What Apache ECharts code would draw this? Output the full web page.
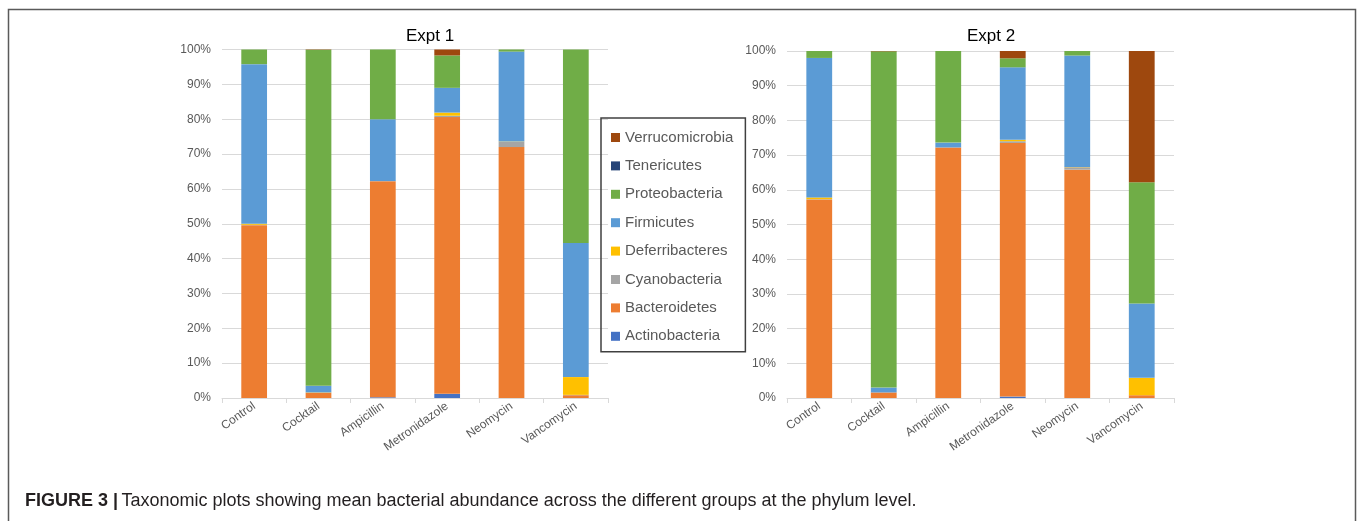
<!DOCTYPE html>
<html>
<head>
<meta charset="utf-8">
<script src="https://cdn.jsdelivr.net/npm/echarts@6/dist/echarts.min.js"></script>
<style>html,body{margin:0;padding:0;background:#fff;}#c{width:1358px;height:521px;}</style>
</head>
<body>
<div id="c"></div>
<script>
// ---- data ----
const categories = ['Control', 'Cocktail', 'Ampicillin', 'Metronidazole', 'Neomycin', 'Vancomycin'];
const phyla = ['Actinobacteria', 'Bacteroidetes', 'Cyanobacteria', 'Deferribacteres', 'Firmicutes', 'Proteobacteria', 'Tenericutes', 'Verrucomicrobia'];
const yTicks = [0, 10, 20, 30, 40, 50, 60, 70, 80, 90, 100];

// Expt 1 (% abundance per group)
const e1Actinobacteria  = [0, 0, 0.2, 1.2, 0, 0];
const e1Bacteroidetes   = [49.6, 1.5, 62.0, 79.4, 72.0, 0.8];
const e1Cyanobacteria   = [0.1, 0, 0.1, 0.4, 1.5, 0.1];
const e1Deferribacteres = [0.3, 0.1, 0, 0.9, 0.1, 5.1];
const e1Firmicutes      = [45.8, 1.9, 17.7, 7.1, 25.8, 38.5];
const e1Proteobacteria  = [4.2, 96.4, 20.0, 9.3, 0.6, 55.5];
const e1Tenericutes     = [0, 0, 0, 0, 0, 0];
const e1Verrucomicrobia = [0, 0.1, 0, 1.7, 0, 0];

// Expt 2
const e2Actinobacteria  = [0, 0, 0, 0.4, 0, 0];
const e2Bacteroidetes   = [57.2, 1.6, 72.2, 73.1, 65.8, 0.8];
const e2Cyanobacteria   = [0.1, 0, 0, 0.5, 0.7, 0];
const e2Deferribacteres = [0.5, 0, 0, 0.4, 0.1, 5.0];
const e2Firmicutes      = [40.2, 1.4, 1.4, 20.9, 32.1, 21.4];
const e2Proteobacteria  = [2.0, 96.9, 26.4, 2.6, 1.3, 35.0];
const e2Tenericutes     = [0, 0, 0, 0, 0, 0];
const e2Verrucomicrobia = [0, 0.1, 0, 2.1, 0, 37.8];

const expt1 = [e1Actinobacteria, e1Bacteroidetes, e1Cyanobacteria, e1Deferribacteres, e1Firmicutes, e1Proteobacteria, e1Tenericutes, e1Verrucomicrobia];
const expt2 = [e2Actinobacteria, e2Bacteroidetes, e2Cyanobacteria, e2Deferribacteres, e2Firmicutes, e2Proteobacteria, e2Tenericutes, e2Verrucomicrobia];

// ---- style ----
const colors = ['#4472C4', '#ED7D31', '#A5A5A5', '#FFC000', '#5B9BD5', '#70AD47', '#264478', '#9E480E'];
const FONT = 'Liberation Sans, Arial, sans-serif';
const gridColor = '#d9d9d9';
const labelColor = '#595959';

function xAxisCfg(gi) {
  return {
    type: 'category', gridIndex: gi, data: categories,
    axisLine: { lineStyle: { color: gridColor, width: 1 } },
    axisTick: { show: true, length: 5, lineStyle: { color: gridColor } },
    axisLabel: { rotate: 35, color: labelColor, fontSize: 12, fontFamily: FONT, margin: 7, interval: 0 }
  };
}
function yAxisCfg(gi) {
  return {
    type: 'value', gridIndex: gi, min: 0, max: 100, interval: 10,
    axisLine: { show: false }, axisTick: { show: false },
    splitLine: { lineStyle: { color: gridColor, width: 1 } },
    axisLabel: { formatter: '{value}%', color: labelColor, fontSize: 12, fontFamily: FONT, margin: 11 }
  };
}

const series = [];
[expt1, expt2].forEach((ex, gi) => {
  phyla.forEach((p, i) => {
    series.push({
      name: p, type: 'bar', stack: 'e' + gi, xAxisIndex: gi, yAxisIndex: gi,
      data: ex[i], barWidth: '40%',
      itemStyle: { color: colors[i] },
      emphasis: { disabled: true }
    });
  });
});

const chart = echarts.init(document.getElementById('c'));
chart.setOption({
  animation: false,
  color: colors,
  title: [
    { text: 'Expt 1', left: 425, top: 23, textAlign: 'center', textStyle: { fontSize: 17, fontWeight: 'normal', color: '#000', fontFamily: FONT } },
    { text: 'Expt 2', left: 986, top: 23, textAlign: 'center', textStyle: { fontSize: 17, fontWeight: 'normal', color: '#000', fontFamily: FONT } }
  ],
  grid: [
    { left: 222, top: 49.5, width: 386, height: 348.5 },
    { left: 787, top: 51, width: 387, height: 347 }
  ],
  xAxis: [xAxisCfg(0), xAxisCfg(1)],
  yAxis: [yAxisCfg(0), yAxisCfg(1)],
  legend: {
    data: phyla.slice().reverse(),
    orient: 'vertical', left: 601, top: 118,
    width: 147,
    padding: [12, 12, 8, 10],
    borderColor: '#404040', borderWidth: 1.5,
    itemWidth: 9, itemHeight: 9, itemGap: 13.4,
    icon: 'rect',
    selectedMode: false,
    textStyle: { fontSize: 15, color: labelColor, fontFamily: FONT, lineHeight: 14, padding: [0, 0, 0, 0] }
  },
  graphic: [
    { type: 'rect', shape: { x: 8.5, y: 9.5, width: 1347, height: 560 }, style: { fill: 'none', stroke: '#5a5a5a', lineWidth: 1.5 }, silent: true },
    {
      type: 'text', left: 25, top: 492,
      style: {
        text: '{b|FIGURE 3 |} {n|Taxonomic plots showing mean bacterial abundance across the different groups at the phylum level.}',
        rich: {
          b: { fontFamily: FONT, fontWeight: 'bold', fontSize: 18, fill: '#231f20' },
          n: { fontFamily: FONT, fontSize: 18, fill: '#231f20' }
        }
      }
    }
  ],
  series: series
});
</script>
</body>
</html>
